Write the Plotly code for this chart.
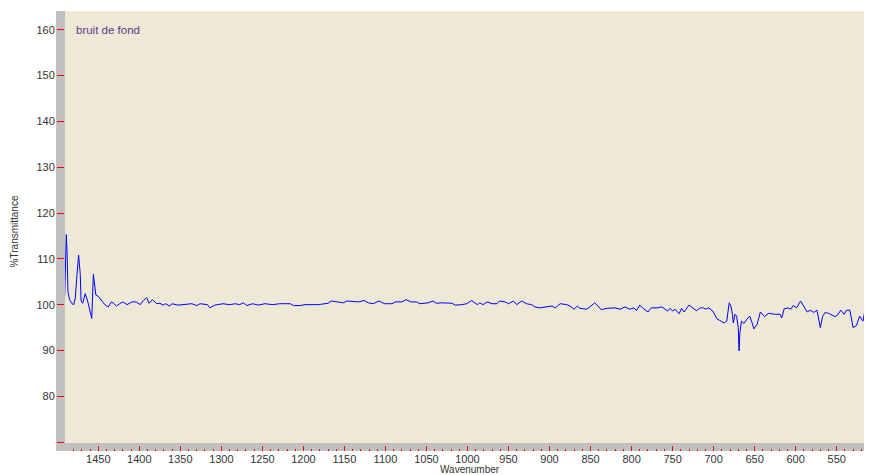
import plotly.graph_objects as go

# spectrum (cm-1, %T)
wavenumber = [
    1491, 1489, 1488, 1487, 1485, 1482, 1480, 1478, 1476, 1474, 1472, 1471, 1469, 1466, 1463,
    1460, 1458, 1456, 1454, 1453, 1450, 1446, 1442, 1438, 1434, 1432, 1428, 1424, 1420, 1415,
    1409, 1404, 1399, 1395, 1391, 1388, 1384, 1379, 1375, 1371, 1368, 1363, 1360, 1353, 1346,
    1336, 1330, 1326, 1317, 1314, 1308, 1298, 1290, 1283, 1278, 1273, 1269, 1262, 1255, 1247,
    1237, 1229, 1216, 1212, 1204, 1198, 1182, 1170, 1166, 1157, 1151, 1147, 1139, 1133, 1126,
    1121, 1115, 1108, 1101, 1092, 1088, 1080, 1075, 1069, 1062, 1058, 1048, 1042, 1038, 1031,
    1019, 1015, 1007, 1001, 995, 988, 985, 981, 976, 970, 964, 961, 954, 950, 944,
    940, 934, 928, 922, 918, 912, 906, 897, 893, 887, 879, 875, 870, 866, 863,
    855, 851, 845, 841, 837, 830, 820, 814, 808, 802, 797, 794, 790, 786, 780,
    776, 769, 763, 756, 753, 750, 747, 742, 739, 736, 730, 727, 721, 716, 712,
    710, 706, 701, 696, 693, 690, 687, 684, 681, 679, 677, 676, 674, 672, 670,
    669, 668, 666, 663, 660, 656, 653, 651, 647, 643, 638, 633, 625, 619, 617,
    614, 609, 606, 603, 599, 594, 591, 586, 582, 578, 574, 570, 567, 564, 560,
    556, 552, 549, 545, 541, 538, 534, 530, 526, 522, 518, 516, 511, 507,
]
transmittance = [
    101.8, 115.3, 111.0, 102.9, 101.1, 100.2, 100.0, 101.5, 106.6, 110.8, 106.6, 100.8, 100.3, 102.4, 100.8,
    98.6, 97.0, 106.6, 103.7, 102.1, 101.8, 100.9, 100.0, 99.5, 100.6, 100.4, 99.7, 100.2, 100.6, 100.0,
    100.6, 100.6, 100.0, 100.9, 101.5, 100.3, 101.1, 100.2, 100.3, 99.9, 100.2, 99.7, 100.2, 99.9, 100.0,
    100.2, 99.8, 100.2, 100.0, 99.3, 99.9, 100.2, 100.0, 100.2, 100.0, 100.4, 99.8, 100.2, 99.9, 100.2,
    100.0, 100.2, 100.2, 99.8, 99.8, 100.0, 100.0, 100.3, 100.8, 100.6, 100.4, 100.8, 100.6, 100.6, 100.9,
    100.4, 100.2, 100.8, 100.2, 100.2, 100.6, 100.6, 101.1, 100.6, 100.6, 100.2, 100.4, 100.8, 100.3, 100.4,
    100.3, 99.9, 100.0, 100.2, 100.9, 100.0, 100.4, 100.0, 100.6, 100.2, 100.2, 100.8, 100.6, 100.2, 100.8,
    100.0, 100.8, 100.2, 100.0, 99.5, 99.3, 99.5, 99.7, 99.3, 100.2, 100.0, 99.7, 99.0, 99.7, 99.2,
    99.0, 99.5, 100.4, 99.7, 98.9, 99.2, 99.3, 99.0, 99.5, 99.0, 99.3, 98.7, 99.9, 99.2, 98.4,
    99.3, 99.3, 99.5, 98.6, 99.2, 98.6, 99.0, 98.0, 99.2, 98.4, 99.9, 99.5, 98.7, 99.3, 99.3,
    99.0, 99.3, 98.6, 96.9, 96.6, 96.2, 96.0, 96.4, 100.4, 99.7, 97.9, 96.0, 97.9, 97.5, 95.0,
    89.9, 93.9, 96.4, 95.9, 96.7, 97.5, 96.0, 94.7, 95.7, 98.4, 97.4, 98.1, 97.9, 97.9, 97.1,
    99.1, 99.3, 99.0, 99.8, 99.3, 100.8, 100.0, 98.4, 98.8, 98.3, 98.8, 95.0, 97.5, 98.3, 98.1,
    97.7, 97.4, 97.7, 98.8, 97.9, 98.8, 98.8, 95.0, 95.4, 97.5, 96.4, 98.3, 99.1, 96.0,
]

y_ticks = [70, 80, 90, 100, 110, 120, 130, 140, 150, 160]
y_labels = ["", "80", "90", "100", "110", "120", "130", "140", "150", "160"]
x_ticks = [1450, 1400, 1350, 1300, 1250, 1200, 1150, 1100, 1050, 1000, 950, 900, 850, 800, 750, 700, 650, 600, 550]

tick_font = dict(family = "Liberation Sans Narrow, Liberation Sans, Arial", size = 11, color = "#333333")

fig = go.Figure()
fig.add_trace(go.Scatter(x = wavenumber, y = transmittance, mode = "lines",
    line = dict(color = "#0000ff", width = 1), showlegend = False))

# the page body has an 8px margin and the figure gets capped to the body width
plot_w = 799
fig.update_layout(
    width = 856, height = 467,
    margin = dict(l = 57, r = 0, t = 3, b = 24),
    plot_bgcolor = "#eee9d6",
    paper_bgcolor = "white",
    xaxis = dict(
        range = [1490.6, 516.7], anchor = "free", position = 0,
        showgrid = False, zeroline = False, showline = False,
        tickvals = x_ticks, ticks = "inside", ticklen = 5, tickcolor = "red", tickwidth = 1,
        minor = dict(dtick = 10, ticks = "inside", ticklen = 2, tickcolor = "red", tickwidth = 1, showgrid = False),
        tickfont = tick_font,
    ),
    yaxis = dict(
        range = [69.8, 164.1], domain = [8 / 440, 1],
        showgrid = False, zeroline = False, showline = False,
        tickvals = y_ticks, ticktext = y_labels, ticks = "outside", ticklen = 7, tickcolor = "#ff0000", tickwidth = 1,
        tickfont = tick_font,
    ),
    shapes = [
        dict(type = "rect", xref = "paper", yref = "paper", x0 = -9 / plot_w, x1 = 0, y0 = 0, y1 = 1,
             fillcolor = "#c0c0c0", line = dict(width = 0), layer = "below"),
        dict(type = "rect", xref = "paper", yref = "paper", x0 = -9 / plot_w, x1 = 1, y0 = 0, y1 = 8 / 440,
             fillcolor = "#c0c0c0", line = dict(width = 0), layer = "below"),
    ],
    annotations = [
        dict(text = "bruit de fond", xref = "paper", yref = "paper", x = 9 / plot_w, y = 0.957,
             xanchor = "left", yanchor = "middle", showarrow = False,
             font = dict(family = "Liberation Sans, Arial", size = 11.5, color = "#603a8c")),
        dict(text = "Wavenumber", xref = "paper", yref = "paper", x = 405 / plot_w, y = -0.041,
             xanchor = "center", yanchor = "middle", showarrow = False,
             font = dict(family = "Liberation Sans, Arial", size = 10, color = "#333333")),
        dict(text = "%Transmittance", xref = "paper", yref = "paper", x = -50.5 / plot_w, y = 0.498,
             xanchor = "center", yanchor = "middle", textangle = -90, showarrow = False,
             font = dict(family = "Liberation Sans, Arial", size = 10, color = "#333333")),
    ],
)

fig.write_html("out.html")
